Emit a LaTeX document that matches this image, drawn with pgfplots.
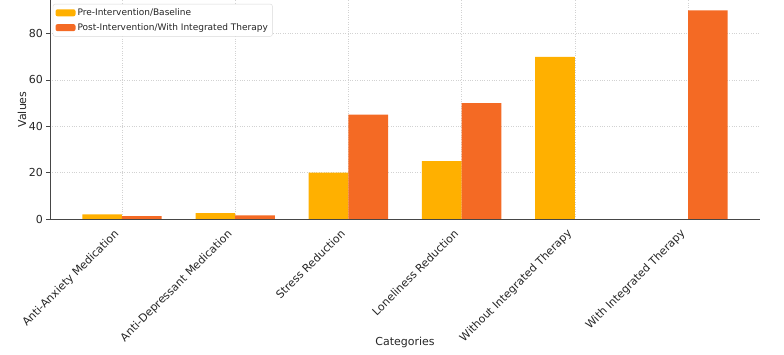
\documentclass[border=0pt]{standalone}
\usepackage{fontspec}
\setmainfont{DejaVu Sans}
\usepackage{pgfplots}
\pgfplotsset{compat=1.18}
\definecolor{preC}{RGB}{255,176,0}
\definecolor{postC}{RGB}{244,106,36}
\definecolor{spine}{RGB}{70,70,70}
\begin{document}
\begin{tikzpicture}
\useasboundingbox (-50pt,-136pt) rectangle (734pt,219pt);
\begin{axis}[
  at={(0,0)}, anchor=south west,
  scale only axis, width=710pt, height=219pt,
  xmin=-0.635, xmax=5.635, ymin=0, ymax=94.5,
  ybar=0pt,
  axis x line*=bottom, axis y line*=left,
  axis line style={spine, line width=0.8pt, -},
  xtick={0,1,2,3,4,5},
  xticklabels={Anti-Anxiety Medication, Anti-Depressant Medication, Stress Reduction, Loneliness Reduction, Without Integrated Therapy, With Integrated Therapy},
  xticklabel style={rotate=45, anchor=north east, font=\fontsize{11}{13}\selectfont, inner sep=1pt, text=black!85, xshift=-9pt, yshift=3pt},
  ytick={0,20,40,60,80},
  yticklabel style={font=\fontsize{11}{13}\selectfont, text=black!85},
  /pgf/number format/assume math mode=true,
  tick align=outside,
  xtick style={draw=none},
  ytick style={spine, line width=0.8pt},
  major tick length=3.5pt,
  grid=major,
  major grid style={dotted, gray!35, line width=0.7pt},
  ylabel={Values}, xlabel={Categories},
  ylabel style={at={(axis description cs:-0.0394,0.5)}, anchor=center, font=\fontsize{11}{13}\selectfont, text=black!85},
  xlabel style={at={(axis description cs:0.5,-0.5616)}, anchor=center, font=\fontsize{11}{13}\selectfont, text=black!85},
  legend style={at={(axis description cs:0.004,0.982)}, anchor=north west, draw=gray!30, rounded corners=2pt, font=\fontsize{9}{11}\selectfont, cells={anchor=west}, inner sep=2.5pt, row sep=2.5pt, text=black!85},
  legend cell align=left,
  legend image code/.code={\fill[#1] (0pt,-3.5pt) rectangle (20pt,3.5pt);},
]
\addplot[fill=preC, draw=none, bar width=0.35, bar shift=-0.175] coordinates {(0,2) (1,2.5) (2,20) (3,25) (4,70)};
\addplot[fill=postC, draw=none, bar width=0.35, bar shift=0.175] coordinates {(0,1.2) (1,1.6) (2,45) (3,50) (5,90)};
\legend{Pre-Intervention/Baseline, Post-Intervention/With Integrated Therapy}
\end{axis}
\end{tikzpicture}
\end{document}
